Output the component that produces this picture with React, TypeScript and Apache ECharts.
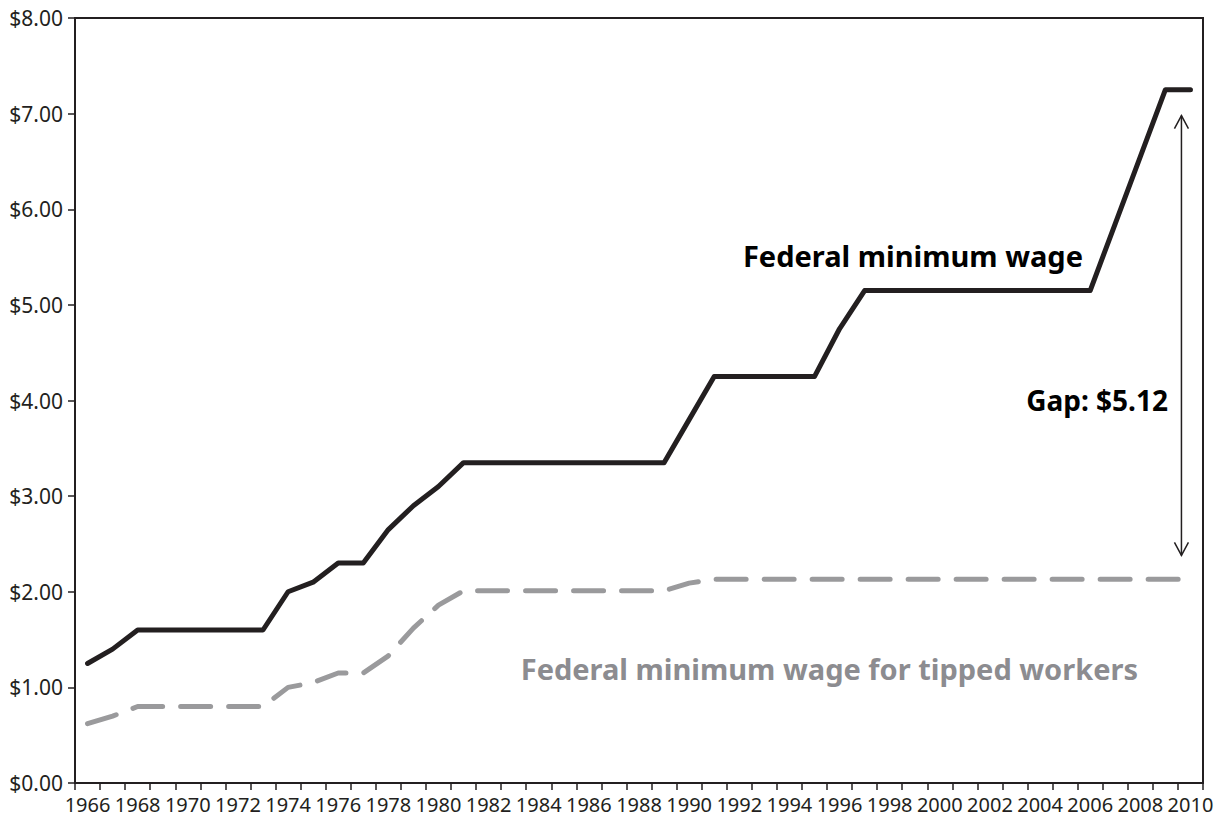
import React, { useEffect, useRef } from "react";
import * as echarts from "echarts";

const years = [
  "1966", "1967", "1968", "1969", "1970", "1971", "1972", "1973", "1974", "1975",
  "1976", "1977", "1978", "1979", "1980", "1981", "1982", "1983", "1984", "1985",
  "1986", "1987", "1988", "1989", "1990", "1991", "1992", "1993", "1994", "1995",
  "1996", "1997", "1998", "1999", "2000", "2001", "2002", "2003", "2004", "2005",
  "2006", "2007", "2008", "2009", "2010",
];

const federalMinimumWage = [
  1.25, 1.4, 1.6, 1.6, 1.6, 1.6, 1.6, 1.6, 2.0, 2.1,
  2.3, 2.3, 2.65, 2.9, 3.1, 3.35, 3.35, 3.35, 3.35, 3.35,
  3.35, 3.35, 3.35, 3.35, 3.8, 4.25, 4.25, 4.25, 4.25, 4.25,
  4.75, 5.15, 5.15, 5.15, 5.15, 5.15, 5.15, 5.15, 5.15, 5.15,
  5.15, 5.85, 6.55, 7.25, 7.25,
];

const tippedMinimumWage = [
  0.62, 0.7, 0.8, 0.8, 0.8, 0.8, 0.8, 0.8, 1.0, 1.05,
  1.15, 1.15, 1.33, 1.62, 1.86, 2.01, 2.01, 2.01, 2.01, 2.01,
  2.01, 2.01, 2.01, 2.01, 2.09, 2.13, 2.13, 2.13, 2.13, 2.13,
  2.13, 2.13, 2.13, 2.13, 2.13, 2.13, 2.13, 2.13, 2.13, 2.13,
  2.13, 2.13, 2.13, 2.13, 2.13,
];

const gapArrowTop = 6.98;
const gapArrowBottom = 2.38;

const FONT = "'Noto Sans', sans-serif";
const INK = "#231f20";
const GRAY = "#9a9a9c";

export default function App() {
  const ref = useRef<HTMLDivElement>(null);

  useEffect(() => {
    if (!ref.current) return;
    const chart = echarts.init(ref.current, null, { renderer: "svg" });
    chart.setOption({
      animation: false,
      backgroundColor: "#ffffff",
      grid: {
        left: 75,
        right: 22,
        top: 18,
        bottom: 42,
        show: true,
        borderColor: INK,
        borderWidth: 2,
      },
      xAxis: {
        type: "category",
        data: years,
        boundaryGap: true,
        axisLine: { lineStyle: { color: INK, width: 2 } },
        axisTick: { show: true, interval: 0, length: 7, lineStyle: { color: INK, width: 1.5 } },
        axisLabel: {
          interval: 1,
          color: INK,
          fontFamily: FONT,
          fontSize: 20,
          margin: 11,
          hideOverlap: false,
          showMinLabel: true,
          showMaxLabel: true,
        },
        splitLine: { show: false },
      },
      yAxis: {
        type: "value",
        min: 0,
        max: 8,
        interval: 1,
        axisLine: { show: true, lineStyle: { color: INK, width: 2 } },
        axisTick: { show: true, length: 7, lineStyle: { color: INK, width: 1.5 } },
        axisLabel: {
          color: INK,
          fontFamily: FONT,
          fontSize: 21,
          margin: 12,
          formatter: (v: number) => "$" + v.toFixed(2),
        },
        splitLine: { show: false },
      },
      series: [
        {
          name: "Federal minimum wage for tipped workers",
          type: "line",
          data: tippedMinimumWage,
          symbol: "none",
          lineStyle: { color: GRAY, width: 5, type: [30, 18], cap: "round", join: "round" },
          z: 2,
        },
        {
          name: "Federal minimum wage",
          type: "line",
          data: federalMinimumWage,
          symbol: "none",
          lineStyle: { color: INK, width: 5, cap: "round", join: "round" },
          z: 3,
        },
      ],
    });

    const x9 = chart.convertToPixel({ xAxisIndex: 0 }, "2009") as number;
    const x10 = chart.convertToPixel({ xAxisIndex: 0 }, "2010") as number;
    const ax = x9 + 0.64 * (x10 - x9);
    const yTop = chart.convertToPixel({ yAxisIndex: 0 }, gapArrowTop) as number;
    const yBot = chart.convertToPixel({ yAxisIndex: 0 }, gapArrowBottom) as number;
    const head = 7;
    const arrowStyle = { stroke: INK, lineWidth: 1.5, fill: null };

    chart.setOption({
      graphic: [
        {
          type: "line",
          shape: { x1: ax, y1: yTop, x2: ax, y2: yBot },
          style: arrowStyle,
          z: 10,
        },
        {
          type: "polyline",
          shape: { points: [[ax - head, yTop + 13], [ax, yTop], [ax + head, yTop + 13]] },
          style: arrowStyle,
          z: 10,
        },
        {
          type: "polyline",
          shape: { points: [[ax - head, yBot - 13], [ax, yBot], [ax + head, yBot - 13]] },
          style: arrowStyle,
          z: 10,
        },
        {
          type: "text",
          x: 1083,
          y: 255,
          style: {
            text: "Federal minimum wage",
            fill: "#000000",
            font: `bold 29px ${FONT}`,
            textAlign: "right",
            textVerticalAlign: "middle",
          },
          z: 10,
        },
        {
          type: "text",
          x: 1168,
          y: 400,
          style: {
            text: "Gap: $5.12",
            fill: "#000000",
            font: `bold 28px ${FONT}`,
            textAlign: "right",
            textVerticalAlign: "middle",
          },
          z: 10,
        },
        {
          type: "text",
          x: 1138,
          y: 668,
          style: {
            text: "Federal minimum wage for tipped workers",
            fill: "#8c8c90",
            font: `bold 29px ${FONT}`,
            textAlign: "right",
            textVerticalAlign: "middle",
          },
          z: 10,
        },
      ],
    });

    return () => chart.dispose();
  }, []);

  return <div ref={ref} style={{ width: 1225, height: 825, position: "absolute", left: 0, top: 0 }} />;
}
